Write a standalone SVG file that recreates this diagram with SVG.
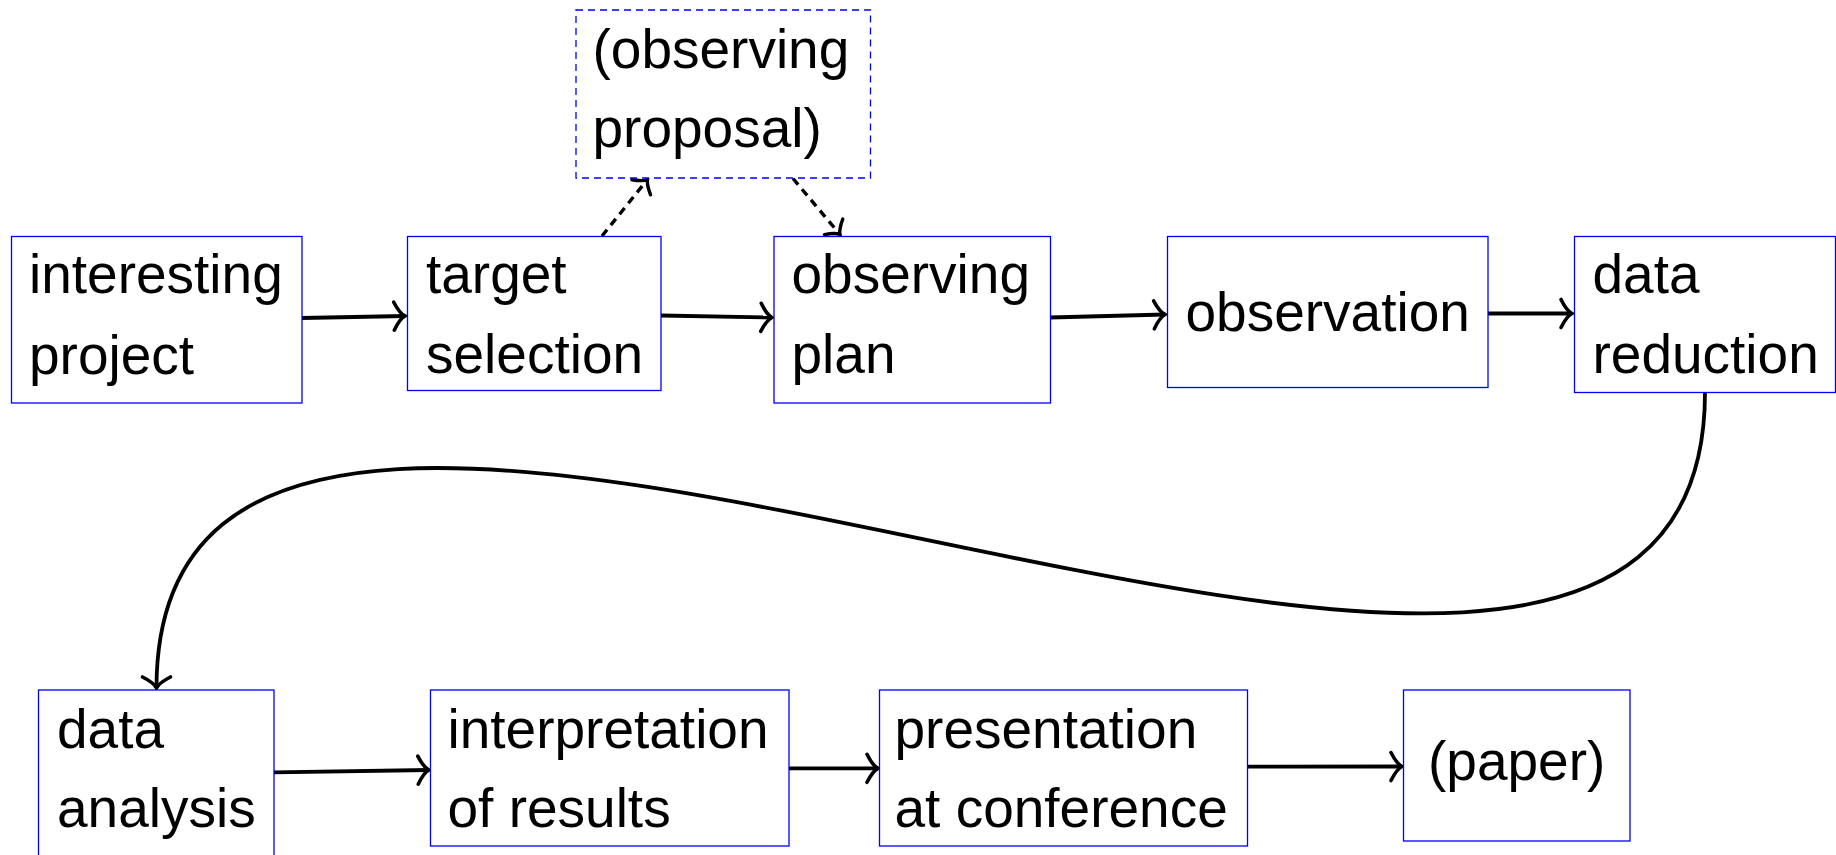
<svg xmlns="http://www.w3.org/2000/svg" width="1836" height="855" viewBox="0 0 1836 855">
<defs>
<style>
.box{fill:#ffffff;stroke:#0000ff;stroke-width:1.3}
.dbox{fill:#ffffff;stroke:#0000ff;stroke-width:1.3;stroke-dasharray:7 5}
.t{font-family:"Liberation Sans",Arial,Helvetica,sans-serif;font-size:55px;fill:#000000}
.c{fill:none;stroke:#000000;stroke-width:3.8;marker-end:url(#arr)}
.d{fill:none;stroke:#000000;stroke-width:3.4;stroke-dasharray:8 6;marker-end:url(#arrd)}
</style>
<marker id="arr" markerUnits="userSpaceOnUse" orient="auto" refX="0" refY="0" markerWidth="40" markerHeight="40" viewBox="-20 -20 40 40" overflow="visible">
<path d="M-11,-14 C-7,-6 -3,-1.5 0,0 C-3,1.5 -7,6 -11,14" fill="none" stroke="#000000" stroke-width="3.6" stroke-linecap="round"/>
</marker>
<marker id="arrd" markerUnits="userSpaceOnUse" orient="auto" refX="0" refY="0" markerWidth="40" markerHeight="40" viewBox="-20 -20 40 40" overflow="visible">
<path d="M-10,-12 C-6,-5 -3,-1.5 0,0 C-3,1.5 -6,5 -10,12" fill="none" stroke="#000000" stroke-width="3.4" stroke-linecap="round"/>
</marker>
</defs>
<rect x="0" y="0" width="1836" height="855" fill="#ffffff"/>

<g id="connectors">
<path class="c" d="M302,318 L405,316"/>
<path class="c" d="M661,315.5 L772,317.5"/>
<path class="c" d="M1050,317.5 L1165,314.5"/>
<path class="c" d="M1488,313.5 L1572,313.5"/>
<path class="d" d="M602,236 L647.5,179.5"/>
<path class="d" d="M793,178.5 L840,234.5"/>
<path class="c" d="M1705,392.5 C1705,1009 156.5,73 156.5,688"/>
<path class="c" d="M274,772.3 L429,770"/>
<path class="c" d="M789,768.3 L878,768.3"/>
<path class="c" d="M1248,766.7 L1402,766.5"/>
</g>

<g id="n-proposal">
<rect class="dbox" x="576" y="10" width="294.5" height="168"/>
<text class="t" x="592.5" y="68">(observing</text>
<text class="t" x="592.5" y="147">proposal)</text>
</g>
<g id="n-interesting">
<rect class="box" x="11.5" y="236.5" width="290.5" height="166.5"/>
<text class="t" x="29" y="293">interesting</text>
<text class="t" x="29" y="374">project</text>
</g>
<g id="n-target">
<rect class="box" x="407.5" y="236.5" width="253.5" height="154"/>
<text class="t" x="426" y="293">target</text>
<text class="t" x="426" y="373">selection</text>
</g>
<g id="n-plan">
<rect class="box" x="774" y="236.5" width="276.5" height="166.5"/>
<text class="t" x="791.5" y="293">observing</text>
<text class="t" x="791.5" y="373">plan</text>
</g>
<g id="n-observation">
<rect class="box" x="1167.5" y="236.5" width="320.5" height="151"/>
<text class="t" x="1185.5" y="331">observation</text>
</g>
<g id="n-reduction">
<rect class="box" x="1574.5" y="236.5" width="261" height="156"/>
<text class="t" x="1592.5" y="293">data</text>
<text class="t" x="1592.5" y="373">reduction</text>
</g>
<g id="n-analysis">
<rect class="box" x="38.5" y="690" width="235.5" height="166.5"/>
<text class="t" x="57" y="748">data</text>
<text class="t" x="57" y="827">analysis</text>
</g>
<g id="n-interpretation">
<rect class="box" x="430.5" y="690" width="358.5" height="156"/>
<text class="t" x="447.5" y="748">interpretation</text>
<text class="t" x="447.5" y="827">of results</text>
</g>
<g id="n-presentation">
<rect class="box" x="879.5" y="690" width="368" height="156"/>
<text class="t" x="894.5" y="748">presentation</text>
<text class="t" x="894.5" y="827">at conference</text>
</g>
<g id="n-paper">
<rect class="box" x="1403.5" y="690" width="226.5" height="151"/>
<text class="t" x="1516.7" y="780" text-anchor="middle">(paper)</text>
</g>
</svg>
